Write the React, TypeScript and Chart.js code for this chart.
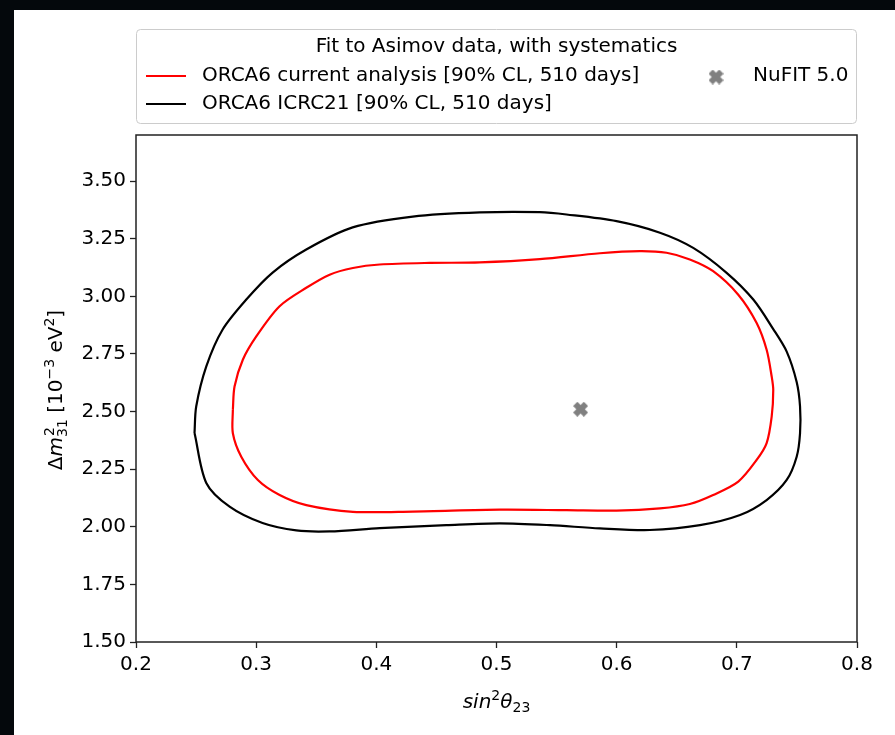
import React, { useEffect, useRef } from "react";
import { Chart, registerables } from "chart.js";

Chart.register(...registerables);

const FONT = "DejaVu Sans";

// ---- data ----
const xTicks = [0.2, 0.3, 0.4, 0.5, 0.6, 0.7, 0.8];
const yTicks = [1.5, 1.75, 2.0, 2.25, 2.5, 2.75, 3.0, 3.25, 3.5];
const xRange = [0.2, 0.8];
const yRange = [1.5, 3.7];

const seriesLabels = [
  "ORCA6 current analysis [90% CL, 510 days]",
  "ORCA6 ICRC21 [90% CL, 510 days]",
  "NuFIT 5.0",
];
const legendTitle = "Fit to Asimov data, with systematics";

// ORCA6 current analysis contour (red)
const redX = [
  0.2806, 0.282, 0.2889, 0.3001, 0.3195, 0.3417, 0.3611, 0.3805, 0.4028, 0.4444,
  0.4861, 0.536, 0.586, 0.6193, 0.6415, 0.6609, 0.6803, 0.7012,
  0.7165, 0.7248, 0.729, 0.7303, 0.729, 0.7248, 0.7165, 0.7012, 0.6803, 0.6609,
  0.636, 0.5999, 0.5583, 0.5027, 0.4303, 0.3805, 0.3417, 0.3195, 0.3014,
  0.2876, 0.2806,
];
const redY = [
  2.507, 2.609, 2.725, 2.826, 2.957, 3.037, 3.094, 3.123, 3.138, 3.145,
  3.147, 3.161, 3.187, 3.196, 3.189, 3.16, 3.109, 3.007,
  2.884, 2.768, 2.652, 2.594, 2.478, 2.363, 2.29, 2.196, 2.138, 2.099,
  2.08, 2.07, 2.072, 2.074, 2.066, 2.065, 2.094, 2.138, 2.203,
  2.304, 2.406,
];

// ORCA6 ICRC21 contour (black)
const blackX = [
  0.2487, 0.2501, 0.2585, 0.272, 0.2918, 0.3137, 0.3417, 0.3803, 0.4303, 0.4861,
  0.536, 0.5583, 0.5999, 0.636, 0.6637, 0.6915, 0.7137, 0.7303, 0.7415, 0.7498,
  0.7526, 0.7526, 0.7498, 0.7415, 0.7248, 0.7027, 0.6693, 0.6276, 0.586, 0.5444,
  0.5027, 0.4583, 0.4028, 0.3611, 0.3334, 0.3053, 0.2779, 0.2585,
];
const blackY = [
  2.407, 2.522, 2.696, 2.855, 2.986, 3.103, 3.203, 3.299, 3.346, 3.364,
  3.365, 3.355, 3.326, 3.276, 3.21, 3.102, 2.986, 2.858, 2.76, 2.628,
  2.522, 2.406, 2.304, 2.203, 2.116, 2.051, 2.007, 1.986, 1.993, 2.007,
  2.015, 2.007, 1.994, 1.98, 1.984, 2.016, 2.087, 2.19,
];

// NuFIT 5.0 best fit
const nufitX = [0.57];
const nufitY = [2.51];

// ---- helpers ----
function closedLoop(xs: number[], ys: number[]) {
  const pts = xs.map((x, i) => ({ x, y: ys[i] }));
  pts.push({ x: xs[0], y: ys[0] });
  return pts;
}

function makeXMarker(size: number, color: string) {
  const c = document.createElement("canvas");
  c.width = size;
  c.height = size;
  const g = c.getContext("2d")!;
  g.translate(size / 2, size / 2);
  g.rotate(Math.PI / 4);
  const w = size * 0.2;
  const L = (size / 2) * Math.SQRT2 - w;
  g.fillStyle = color;
  g.fillRect(-L, -w, 2 * L, 2 * w);
  g.fillRect(-w, -L, 2 * w, 2 * L);
  return c;
}

type Seg = { t?: string; it?: boolean; pos?: "sup" | "sub"; stack?: [string, string] };

function segFont(size: number, it?: boolean) {
  return `${it ? "italic " : ""}${size}px "${FONT}"`;
}

function segWidth(ctx: CanvasRenderingContext2D, s: Seg, size: number) {
  if (s.stack) {
    ctx.font = segFont(size * 0.7);
    return Math.max(ctx.measureText(s.stack[0]).width, ctx.measureText(s.stack[1]).width);
  }
  const sz = s.pos ? size * 0.7 : size;
  ctx.font = segFont(sz, s.it);
  return ctx.measureText(s.t || "").width;
}

function drawRich(ctx: CanvasRenderingContext2D, segs: Seg[], cx: number, baseY: number, size: number) {
  const total = segs.reduce((a, s) => a + segWidth(ctx, s, size), 0);
  let x = cx - total / 2;
  ctx.textAlign = "left";
  ctx.textBaseline = "alphabetic";
  ctx.fillStyle = "#000";
  for (const s of segs) {
    const w = segWidth(ctx, s, size);
    if (s.stack) {
      ctx.font = segFont(size * 0.7);
      ctx.fillText(s.stack[0], x + 1, baseY - size * 0.42);
      ctx.fillText(s.stack[1], x, baseY + size * 0.25);
    } else if (s.pos === "sup") {
      ctx.font = segFont(size * 0.7, s.it);
      ctx.fillText(s.t || "", x, baseY - size * 0.42);
    } else if (s.pos === "sub") {
      ctx.font = segFont(size * 0.7, s.it);
      ctx.fillText(s.t || "", x, baseY + size * 0.22);
    } else {
      ctx.font = segFont(size, s.it);
      ctx.fillText(s.t || "", x, baseY);
    }
    x += w;
  }
}

const yTitleSegs: Seg[] = [
  { t: "Δ" },
  { t: "m", it: true },
  { stack: ["2", "31"] },
  { t: " [10" },
  { t: "−3", pos: "sup" },
  { t: " eV" },
  { t: "2", pos: "sup" },
  { t: "]" },
];
const xTitleSegs: Seg[] = [
  { t: "sin", it: true },
  { t: "2", pos: "sup" },
  { t: "θ", it: true },
  { t: "23", pos: "sub" },
];

export default function App() {
  const ref = useRef<HTMLCanvasElement | null>(null);

  useEffect(() => {
    if (!ref.current) return;
    const marker = makeXMarker(15, "#808080");

    const decor = {
      id: "decor",
      beforeDraw(chart: any) {
        const ctx = chart.ctx as CanvasRenderingContext2D;
        ctx.save();
        ctx.fillStyle = "#ffffff";
        ctx.fillRect(0, 0, chart.width, chart.height);
        ctx.fillStyle = "#04080c";
        ctx.fillRect(0, 0, chart.width, 10);
        ctx.fillRect(0, 0, 14, chart.height);
        ctx.restore();
      },
      afterDraw(chart: any) {
        const ctx = chart.ctx as CanvasRenderingContext2D;
        const a = chart.chartArea;
        ctx.save();
        // axes frame (all four spines)
        ctx.strokeStyle = "#222";
        ctx.lineWidth = 1.5;
        ctx.strokeRect(a.left, a.top, a.right - a.left, a.bottom - a.top);

        // legend box
        const bx = a.left + 0.5;
        const bw = a.right - a.left - 1;
        ctx.beginPath();
        (ctx as any).roundRect(bx, 29.5, bw, 94, 4);
        ctx.fillStyle = "rgba(255,255,255,0.8)";
        ctx.fill();
        ctx.strokeStyle = "#cccccc";
        ctx.lineWidth = 1;
        ctx.stroke();

        ctx.fillStyle = "#000";
        ctx.font = `20px "${FONT}"`;
        ctx.textAlign = "center";
        ctx.textBaseline = "middle";
        ctx.fillText(legendTitle, bx + bw / 2, 47);

        const ds = chart.data.datasets;
        const rows = [
          { i: 0, y: 76 },
          { i: 1, y: 104 },
        ];
        ctx.textAlign = "left";
        for (const r of rows) {
          ctx.strokeStyle = ds[r.i].borderColor;
          ctx.lineWidth = 2.2;
          ctx.beginPath();
          ctx.moveTo(146, r.y);
          ctx.lineTo(186, r.y);
          ctx.stroke();
          ctx.fillStyle = "#000";
          ctx.fillText(ds[r.i].label, 202, r.y);
        }
        ctx.drawImage(marker, 716 - 7.5, 77 - 7.5);
        ctx.fillText(ds[2].label, 753, 76);

        // axis titles
        drawRich(ctx, xTitleSegs, (a.left + a.right) / 2, 708, 20);
        ctx.translate(62, 390);
        ctx.rotate(-Math.PI / 2);
        drawRich(ctx, yTitleSegs, 0, 0, 20);
        ctx.restore();
      },
    };

    const tickFont = { family: FONT, size: 20 };

    const chart = new Chart(ref.current, {
      type: "scatter",
      data: {
        datasets: [
          {
            label: seriesLabels[0],
            data: closedLoop(redX, redY),
            showLine: true,
            borderColor: "#ff0000",
            backgroundColor: "#ff0000",
            borderWidth: 2.2,
            pointRadius: 0,
            tension: 0.3,
          },
          {
            label: seriesLabels[1],
            data: closedLoop(blackX, blackY),
            showLine: true,
            borderColor: "#000000",
            backgroundColor: "#000000",
            borderWidth: 2.2,
            pointRadius: 0,
            tension: 0.3,
          },
          {
            label: seriesLabels[2],
            data: nufitX.map((x, i) => ({ x, y: nufitY[i] })),
            showLine: false,
            borderColor: "#808080",
            backgroundColor: "#808080",
            pointStyle: marker as any,
            pointRadius: 7,
          },
        ],
      },
      options: {
        animation: false,
        responsive: false,
        devicePixelRatio: 1,
        layout: { padding: { left: 0, top: 135, right: 38, bottom: 0 } },
        plugins: {
          legend: { display: false },
          tooltip: { enabled: false },
        },
        scales: {
          x: {
            type: "linear",
            min: xRange[0],
            max: xRange[1],
            afterBuildTicks: (s: any) => {
              s.ticks = xTicks.map((v) => ({ value: v }));
            },
            afterFit: (s: any) => {
              s.height = 93;
            },
            ticks: {
              callback: (v: any) => Number(v).toFixed(1),
              font: tickFont,
              color: "#000",
              padding: 5,
              maxRotation: 0,
              autoSkip: false,
            },
            grid: {
              drawOnChartArea: false,
              drawTicks: true,
              tickLength: 6,
              tickColor: "#222",
              tickWidth: 1.3,
            },
            border: { display: false },
          },
          y: {
            type: "linear",
            min: yRange[0],
            max: yRange[1],
            afterBuildTicks: (s: any) => {
              s.ticks = yTicks.map((v) => ({ value: v }));
            },
            afterFit: (s: any) => {
              s.width = 136;
            },
            ticks: {
              callback: (v: any) => Number(v).toFixed(2),
              font: tickFont,
              color: "#000",
              padding: 4,
              autoSkip: false,
            },
            grid: {
              drawOnChartArea: false,
              drawTicks: true,
              tickLength: 6,
              tickColor: "#222",
              tickWidth: 1.3,
            },
            border: { display: false },
          },
        },
      },
      plugins: [decor],
    } as any);

    return () => chart.destroy();
  }, []);

  return (
    <div style={{ position: "fixed", left: 0, top: 0, width: 895, height: 735 }}>
      <canvas ref={ref} width={895} height={735} style={{ width: 895, height: 735, display: "block" }} />
    </div>
  );
}
